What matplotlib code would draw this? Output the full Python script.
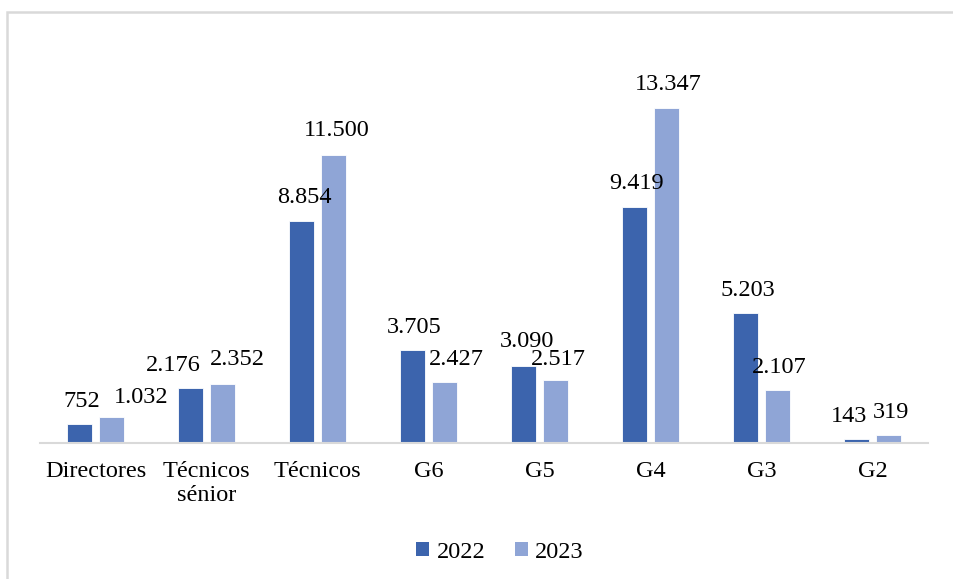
import matplotlib
matplotlib.use("Agg")
import matplotlib.pyplot as plt
from matplotlib.patches import Rectangle, Patch
import numpy as np

categories = ["Directores", "Técnicos\nsénior", "Técnicos", "G6", "G5", "G4", "G3", "G2"]
values_2022 = [752, 2176, 8854, 3705, 3090, 9419, 5203, 143]
values_2023 = [1032, 2352, 11500, 2427, 2517, 13347, 2107, 319]
series_names = ["2022", "2023"]

# label offsets (pixels) to mimic the original label placement
dx_2022 = [2, -17, 3, 2, 3, 2, 2, -7]
dx_2023 = [30, 15, 3, 12, 3, 2, 2, 3]
dy_2022 = [17, 17, 18, 17, 19, 18, 17, 17]
dy_2023 = [14, 19, 19, 17, 15, 18, 17, 17]

c_dark = "#3c64ad"
c_light = "#8fa5d6"

plt.rcParams["font.family"] = ["Liberation Serif", "DejaVu Serif"]
fig = plt.figure(figsize=(9.54, 5.79), dpi=100)
ax = fig.add_axes([40/954, (579-443)/579, 888/954, 401/579])

x = np.arange(len(categories))
w = 0.225
off = 0.144
b1 = ax.bar(x - off, values_2022, w, color=c_dark, edgecolor="white", linewidth=0.6)
b2 = ax.bar(x + off, values_2023, w, color=c_light, edgecolor="white", linewidth=0.6)

def fmt(v):
    return f"{v:,}".replace(",", ".")

FS = 17.5
for bars, vals, dxs, dys in [(b1, values_2022, dx_2022, dy_2022), (b2, values_2023, dx_2023, dy_2023)]:
    for r, v, ddx, ddy in zip(bars, vals, dxs, dys):
        ax.annotate(fmt(v), (r.get_x() + r.get_width()/2, v),
                    xytext=(ddx*0.72, ddy*0.72), textcoords="offset points",
                    ha="center", va="baseline", fontsize=FS, color="#000000")

ax.set_xlim(-0.5, len(categories) - 0.5)
ax.set_ylim(0, 16000)
ax.set_yticks([])
ax.set_xticks(x)
ax.set_xticklabels(categories, fontsize=FS, linespacing=1.2)
ax.tick_params(axis="x", length=0, pad=13)
for s in ["top", "right", "left"]:
    ax.spines[s].set_visible(False)
ax.spines["bottom"].set_color("#d9d9d9")
ax.spines["bottom"].set_linewidth(1.5)

handles = [Patch(facecolor=c_dark), Patch(facecolor=c_light)]
fig.legend(handles, series_names, loc="center", bbox_to_anchor=(500/954, (579-552)/579),
           ncol=2, frameon=False, fontsize=FS, handlelength=0.55, handleheight=0.55,
           handletextpad=0.3, columnspacing=1.2)

fig.patches.append(Rectangle((7/954, -0.2), 1.5, (579-12)/579 + 0.2, transform=fig.transFigure,
                             fill=False, edgecolor="#d9d9d9", linewidth=1.8, figure=fig))

fig.savefig("out.png", dpi=100)
